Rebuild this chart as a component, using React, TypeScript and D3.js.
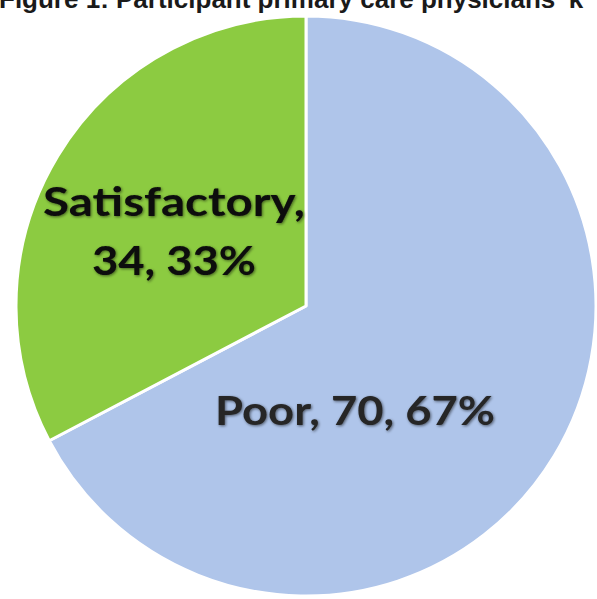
import React from "react";
import * as d3 from "d3";

const categories = ["Poor", "Satisfactory"];
const counts = [70, 34];
const percents = ["67%", "33%"];
const colors = ["#AFC5EA", "#8CCB41"];
const titleText = "Figure 1: Participant primary care physicians' k";

const W = 597;
const H = 599;
const CX = 306;
const CY = 306;
const R = 290;

// label layout (position of text block, width, text colour)
const labelLayout = [
  { x: 355, lines: [{ y: 425, w: 280 }], color: "#262626", oneLine: true },
  { x: 174, lines: [{ y: 216, w: 262 }, { y: 275, w: 164 }], color: "#0a0a0a", oneLine: false },
];

export default function App() {
  const pie = d3.pie<number>().sort(null).value((d) => d);
  const arcs = pie(counts);
  const arc = d3.arc<d3.PieArcDatum<number>>().innerRadius(0).outerRadius(R);
  const font = "Lato, 'Open Sans', sans-serif";

  return (
    <div style={{ position: "fixed", left: 0, top: 0, width: W, height: H, background: "#fff" }}>
      <svg width={W} height={H} style={{ display: "block" }}>
        <defs>
          <filter id="glow" x="-10%" y="-30%" width="120%" height="160%">
            <feGaussianBlur in="SourceAlpha" stdDeviation="1.6" result="b" />
            <feOffset in="b" dx="0.5" dy="1" result="o" />
            <feComponentTransfer in="o" result="s">
              <feFuncA type="linear" slope="0.55" />
            </feComponentTransfer>
            <feMerge>
              <feMergeNode in="s" />
              <feMergeNode in="SourceGraphic" />
            </feMerge>
          </filter>
        </defs>
        <text
          x={-1}
          y={8}
          fontFamily="'Liberation Sans', Arial, sans-serif"
          fontWeight="bold"
          fontSize={26}
          fill="#1a1a1a"
        >
          {titleText}
        </text>
        <g transform={`translate(${CX},${CY})`}>
          {arcs.map((a, i) => (
            <path
              key={categories[i]}
              d={arc(a) || ""}
              fill={colors[i]}
              stroke="#ffffff"
              strokeWidth={3}
              strokeLinejoin="round"
            />
          ))}
        </g>
        {arcs.map((a, i) => {
          const L = labelLayout[i];
          const texts = L.oneLine
            ? [`${categories[i]}, ${counts[i]}, ${percents[i]}`]
            : [`${categories[i]},`, `${counts[i]}, ${percents[i]}`];
          return (
            <g key={"lab" + i} filter="url(#glow)">
              {texts.map((t, j) => (
                <text
                  key={j}
                  x={L.x}
                  y={L.lines[j].y}
                  textAnchor="middle"
                  fontFamily={font}
                  fontWeight="bold"
                  fontSize={41}
                  fill={L.color}
                  textLength={L.lines[j].w}
                  lengthAdjust="spacingAndGlyphs"
                >
                  {t}
                </text>
              ))}
            </g>
          );
        })}
      </svg>
    </div>
  );
}
